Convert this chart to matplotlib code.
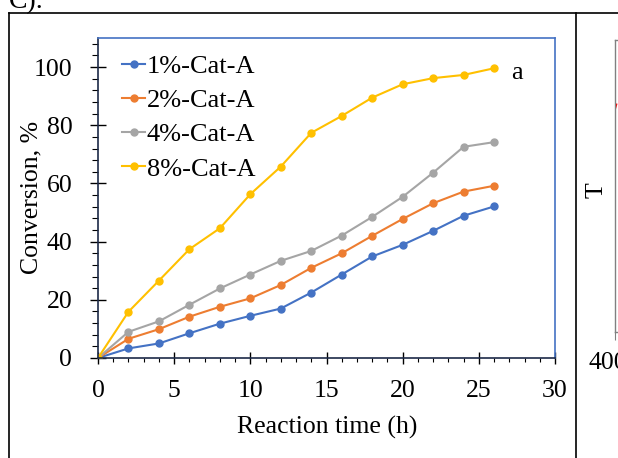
import matplotlib
matplotlib.use("Agg")
import matplotlib.pyplot as plt
from matplotlib.lines import Line2D
from matplotlib.ticker import MultipleLocator

plt.rcParams["font.family"] = ["Liberation Serif", "DejaVu Serif"]

# reaction time (h) and conversion (%)
time_h = [0, 2, 4, 6, 8, 10, 12, 14, 16, 18, 20, 22, 24, 26]
cat1 = [0, 3.3, 5.0, 8.5, 11.8, 14.5, 17.0, 22.5, 28.7, 34.9, 38.9, 43.7, 48.9, 52.1]
cat2 = [0, 6.6, 9.9, 14.2, 17.6, 20.5, 25.1, 31.0, 36.0, 42.0, 47.8, 53.2, 57.2, 59.2]
cat4 = [0, 9.0, 12.6, 18.3, 23.9, 28.7, 33.4, 36.8, 42.1, 48.5, 55.4, 63.7, 72.6, 74.2]
cat8 = [0, 15.9, 26.6, 37.4, 44.6, 56.3, 65.8, 77.4, 83.2, 89.5, 94.1, 96.2, 97.3, 99.6]
labels = ["1%-Cat-A", "2%-Cat-A", "4%-Cat-A", "8%-Cat-A"]
colors = ["#4472C4", "#ED7D31", "#A5A5A5", "#FFC000"]

# fragment of the neighbouring panel (cut off at the right edge)
side_x = [400, 420]
side_y = [76, 78]

W, H = 618, 458
fig = plt.figure(figsize=(W / 100, H / 100), dpi=100)


def px(x, y):
    # pixel position (from top-left) -> figure fraction
    return x / W, 1 - y / H


# table-cell borders around the panels
for (x0, y0), (x1, y1) in [((9, 458), (9, 13)), ((9, 13), (618, 13)), ((576, 13), (576, 458))]:
    a, b = px(x0, y0)
    c, d = px(x1, y1)
    fig.add_artist(Line2D([a, c], [b, d], color="black", lw=1.2,
                          transform=fig.transFigure))
fig.text(*px(9, 8), "C).", fontsize=20, va="baseline", ha="left")

ax = fig.add_axes([98 / W, 100 / H, 457 / W, 320 / H])
for series, lab, c in zip([cat1, cat2, cat4, cat8], labels, colors):
    ax.plot(time_h, series, "-o", color=c, lw=1.5, ms=5, label=lab)

ax.set_xlim(0, 30)
ax.set_ylim(0, 110)
ax.xaxis.set_major_locator(MultipleLocator(5))
ax.xaxis.set_minor_locator(MultipleLocator(1))
ax.yaxis.set_major_locator(MultipleLocator(20))
ax.yaxis.set_minor_locator(MultipleLocator(4))
ax.tick_params(axis="x", which="major", direction="inout", length=9, width=1,
               labelsize=18.5, pad=11)
ax.tick_params(axis="x", which="minor", direction="out", length=3, width=0.8)
ax.tick_params(axis="y", which="major", direction="inout", length=12, width=1,
               labelsize=18.5, pad=12.5)
ax.tick_params(axis="y", which="minor", direction="out", length=4.3, width=0.8)
for s in ["top", "right"]:
    ax.spines[s].set_color("#4472C4")
    ax.spines[s].set_linewidth(1.2)
for s in ["left", "bottom"]:
    ax.spines[s].set_color("#1c2a48")
    ax.spines[s].set_linewidth(1.2)

fig.text(*px(327, 427), "Reaction time (h)", fontsize=18.5, ha="center", va="center")
fig.text(*px(31, 197), "Conversion, %", fontsize=18.5, ha="center", va="center",
         rotation=90)
ax.text(0.905, 0.89, "a", transform=ax.transAxes, fontsize=19, va="center")
ax.legend(loc="upper left", bbox_to_anchor=(0.03, 0.98), frameon=False,
          fontsize=19, handlelength=0.87, handletextpad=0.05, labelspacing=0.4,
          borderaxespad=0)

# partial neighbouring panel at the right edge
ax2 = fig.add_axes([615 / W, 126 / H, 300 / W, 292 / H])
ax2.plot(side_x, side_y, color="red", lw=1)
ax2.set_xlim(400, 4000)
ax2.set_ylim(0, 100)
ax2.set_xticks([400])
ax2.set_xticklabels([""])
ax2.set_yticks([])
ax2.tick_params(axis="x", length=6, color="#808080")
for s in ax2.spines.values():
    s.set_color("#808080")
    s.set_linewidth(1)
fig.text(*px(608, 363), "400", fontsize=18.5, ha="center", va="center")
fig.text(*px(597, 190), "T", fontsize=18.5, ha="center", va="center", rotation=90)

fig.savefig("out.png", dpi=100)
